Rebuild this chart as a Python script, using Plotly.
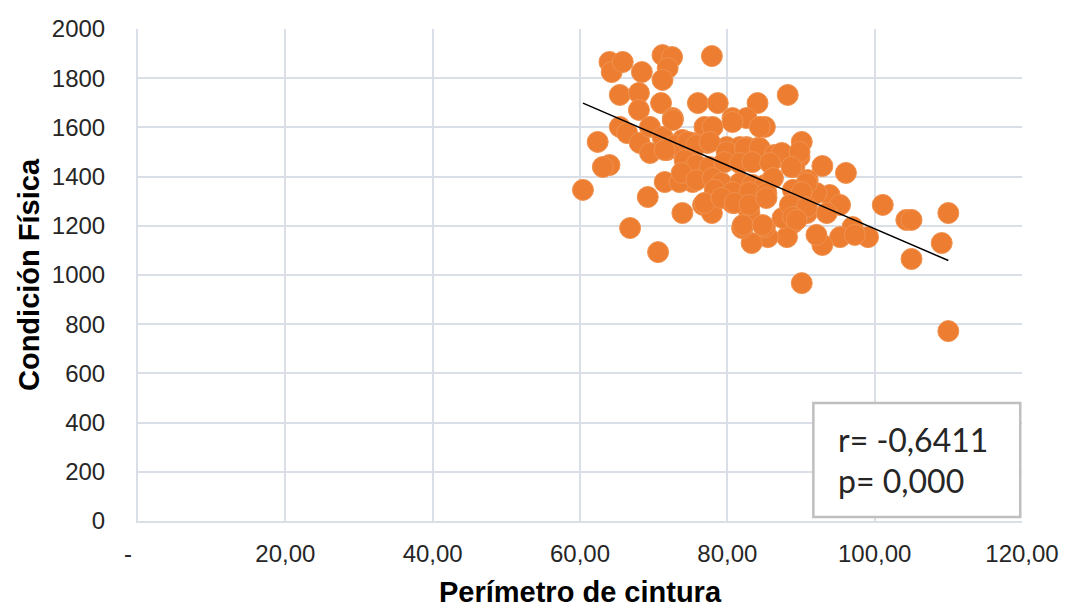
import plotly.graph_objects as go

# Perímetro de cintura (x) and Condición Física (y)
perimetro = [64.0, 64.3, 65.8, 68.4, 71.2, 72.5, 71.9, 71.2, 77.9, 65.4,
             68.0, 68.0, 71.0, 72.6, 76.0, 78.7, 84.1, 88.2, 80.7, 82.6,
             65.4, 62.4, 64.0, 63.1, 66.4, 68.1, 69.5, 69.5, 71.2, 71.8,
             76.9, 78.0, 73.9, 75.3, 77.3, 79.9, 82.6, 85.1, 90.1, 87.5,
             89.8, 89.1, 92.9, 96.1, 90.9, 81.7, 84.1, 86.2, 101.1, 104.3,
             105.0, 110.0, 109.1, 105.0, 90.1, 110.0, 93.9, 95.3, 92.1, 97.0,
             99.1, 95.3, 92.9, 92.1, 88.9, 88.1, 85.5, 83.3, 85.1, 82.1,
             83.0, 85.3, 88.9, 90.8, 93.5, 90.8, 87.5, 60.4, 69.2, 71.5,
             73.9, 66.8, 70.6, 76.7, 77.9, 82.0, 80.7, 79.0, 75.3, 73.5,
             97.3, 72.6, 80.7, 84.4, 72.9, 74.6, 75.8, 77.6, 79.9, 82.4,
             84.4, 86.4, 87.4, 89.8, 71.5, 74.2, 75.8, 77.6, 79.6, 81.7,
             83.4, 85.8, 88.7, 73.8, 75.8, 78.0, 79.2, 81.7, 83.4, 85.1,
             86.2, 78.3, 80.7, 83.0, 85.3, 88.9, 90.1, 76.9, 79.2, 81.0,
             83.0, 85.3, 88.5, 90.8, 88.9, 82.1, 84.8, 89.4]
condicion = [1866, 1825, 1866, 1825, 1894, 1886, 1841, 1793, 1890, 1732,
             1740, 1671, 1699, 1638, 1699, 1699, 1699, 1732, 1638, 1638,
             1602, 1541, 1447, 1439, 1577, 1537, 1496, 1602, 1561, 1508,
             1602, 1602, 1549, 1537, 1537, 1520, 1520, 1602, 1541, 1480,
             1480, 1439, 1443, 1415, 1386, 1520, 1516, 1480, 1285, 1224,
             1224, 1252, 1130, 1065, 967, 772, 1325, 1285, 1333, 1195,
             1154, 1154, 1122, 1163, 1211, 1154, 1154, 1130, 1195, 1195,
             1252, 1317, 1276, 1252, 1252, 1374, 1232, 1346, 1317, 1378,
             1252, 1191, 1093, 1285, 1252, 1191, 1293, 1325, 1378, 1378,
             1163, 1630, 1622, 1602, 1528, 1541, 1528, 1541, 1500, 1516,
             1516, 1488, 1496, 1500, 1508, 1467, 1447, 1439, 1459, 1455,
             1459, 1455, 1439, 1415, 1386, 1394, 1374, 1374, 1366, 1366,
             1394, 1346, 1337, 1337, 1333, 1346, 1337, 1293, 1313, 1293,
             1285, 1313, 1285, 1276, 1236, 1203, 1203, 1224]

# Linear trendline as shown in the chart
trend_slope = -12.9
trend_intercept = 2478

x_ticks = [0, 20, 40, 60, 80, 100, 120]
x_tick_labels = ["-\u00a0\u00a0\u00a0", "20,00", "40,00", "60,00", "80,00", "100,00", "120,00"]
y_ticks = list(range(0, 2001, 200))
stats_text = ["r= -0,6411", "p= 0,000"]

xl = [min(perimetro), max(perimetro)]
yl = [trend_slope * v + trend_intercept for v in xl]

fig = go.Figure()
fig.add_trace(go.Scatter(
    x=perimetro, y=condicion, mode="markers",
    marker=dict(size=21, color="#ED7D31", line=dict(color="#F0924F", width=1)),
    showlegend=False, hoverinfo="skip"))
fig.add_trace(go.Scatter(
    x=xl, y=yl, mode="lines", line=dict(color="black", width=1.5),
    showlegend=False, hoverinfo="skip"))

grid = "#D9DEE7"
tickfont = dict(family="Liberation Sans, Arial, sans-serif", size=24, color="#262626")
fig.update_layout(
    width=1070, height=608,
    margin=dict(l=138, r=48, t=29, b=87),
    paper_bgcolor="white", plot_bgcolor="white",
    font=dict(family="Liberation Sans, Arial, sans-serif", size=24, color="#262626"),
    xaxis=dict(range=[0, 120], tickvals=x_ticks, ticktext=x_tick_labels,
               showgrid=True, gridcolor=grid, gridwidth=2, tickfont=tickfont,
               showline=True, linecolor=grid, linewidth=2, zeroline=False,
               ticks="", ticklabelstandoff=10, automargin=False,
               title=dict(text="<b>Perímetro de cintura</b>", font=dict(size=29, color="black"),
                          standoff=18)),
    yaxis=dict(range=[0, 2000], tickvals=y_ticks,
               showgrid=True, gridcolor=grid, gridwidth=2, tickfont=tickfont,
               showline=True, linecolor=grid, linewidth=2, zeroline=False,
               ticks="", ticklabelstandoff=26, automargin=False,
               title=dict(text="<b>Condición Física</b>", font=dict(size=29, color="black"),
                          standoff=4)),
)

fig.add_shape(type="rect", xref="paper", yref="paper",
              x0=0.764, x1=0.998, y0=0.008, y1=0.240,
              line=dict(color="#BFBFBF", width=2.5), fillcolor="white", layer="above")
fig.add_annotation(xref="paper", yref="paper", x=0.790, y=0.165, xanchor="left", yanchor="middle",
                   text=stats_text[0], showarrow=False,
                   font=dict(family="Lato, Carlito, sans-serif", size=32, color="#262626"))
fig.add_annotation(xref="paper", yref="paper", x=0.790, y=0.083, xanchor="left", yanchor="middle",
                   text=stats_text[1], showarrow=False,
                   font=dict(family="Lato, Carlito, sans-serif", size=32, color="#262626"))

fig.write_html("out.html")
